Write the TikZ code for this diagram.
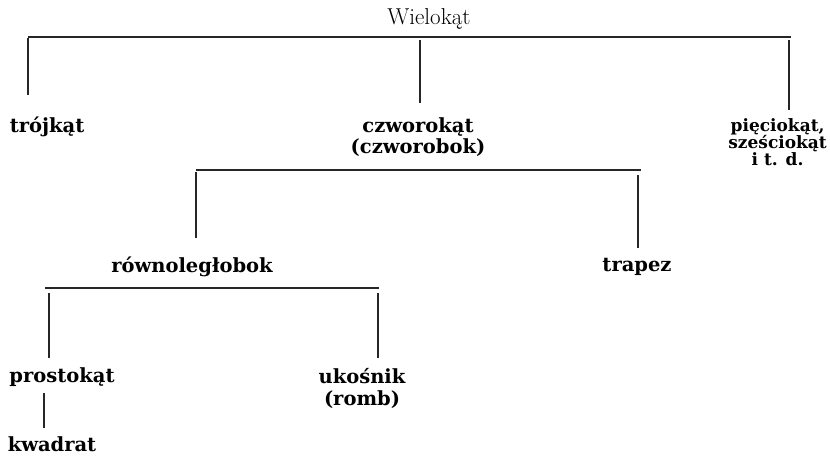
\documentclass[tikz,border=0pt]{standalone}
\usepackage{fontspec}
\setmainfont{DejaVu Serif}
\newfontfamily\titlefont{Latin Modern Roman}
\begin{document}
\begin{tikzpicture}[x=1pt,y=-1pt,
  lbl/.style={font=\bfseries\fontsize{19.5}{21}\selectfont, inner sep=0pt, align=center},
  ttl/.style={font=\titlefont\fontsize{23}{25}\selectfont, inner sep=0pt},
  bar/.style={line width=1.1pt, black!85},
  stem/.style={line width=1.1pt, black!85}]
\useasboundingbox (0,0) rectangle (830,461);
% nodes
\node[ttl] (wiel) at (429,19) {Wielokąt};
\node[lbl] (troj) at (47,127) {trójkąt};
\node[lbl, font=\bfseries\fontsize{19.5}{20.5}\selectfont] (czw) at (418,137) {czworokąt\\(czworobok)};
\node[lbl, anchor=east, font=\bfseries\fontsize{17}{17}\selectfont] (piec) at (827,142) {pięciokąt,\\sześciokąt\\i t. d.};
\node[lbl] (rown) at (192,267) {równoległobok};
\node[lbl] (trap) at (637,267) {trapez};
\node[lbl] (pros) at (62,377) {prostokąt};
\node[lbl, font=\bfseries\fontsize{19.5}{22}\selectfont] (ukos) at (362,388) {ukośnik\\(romb)};
\node[lbl] (kwad) at (52,444) {kwadrat};
% level 1
\coordinate (b1l) at (28,37);
\coordinate (b1r) at (791,37);
\draw[bar] (b1l) -- (b1r);
\coordinate (s1a) at (28,38);  \coordinate (s1ae) at (28,95);
\coordinate (s1b) at (420,40); \coordinate (s1be) at (420,103);
\coordinate (s1c) at (789,40); \coordinate (s1ce) at (789,110);
\draw[stem] (s1a) -- (s1ae);
\draw[stem] (s1b) -- (s1be);
\draw[stem] (s1c) -- (s1ce);
% level 2
\coordinate (b2l) at (196,170);
\coordinate (b2r) at (641,170);
\draw[bar] (b2l) -- (b2r);
\coordinate (s2a) at (196,172); \coordinate (s2ae) at (196,238);
\coordinate (s2b) at (638,175); \coordinate (s2be) at (638,248);
\draw[stem] (s2a) -- (s2ae);
\draw[stem] (s2b) -- (s2be);
% level 3
\coordinate (b3l) at (45,288);
\coordinate (b3r) at (379,288);
\draw[bar] (b3l) -- (b3r);
\coordinate (s3a) at (49,293); \coordinate (s3ae) at (49,358);
\coordinate (s3b) at (378,293); \coordinate (s3be) at (378,358);
\draw[stem] (s3a) -- (s3ae);
\draw[stem] (s3b) -- (s3be);
% prostokat -> kwadrat
\coordinate (s4a) at (44,393); \coordinate (s4ae) at (44,428);
\draw[stem] (s4a) -- (s4ae);
\end{tikzpicture}
\end{document}
